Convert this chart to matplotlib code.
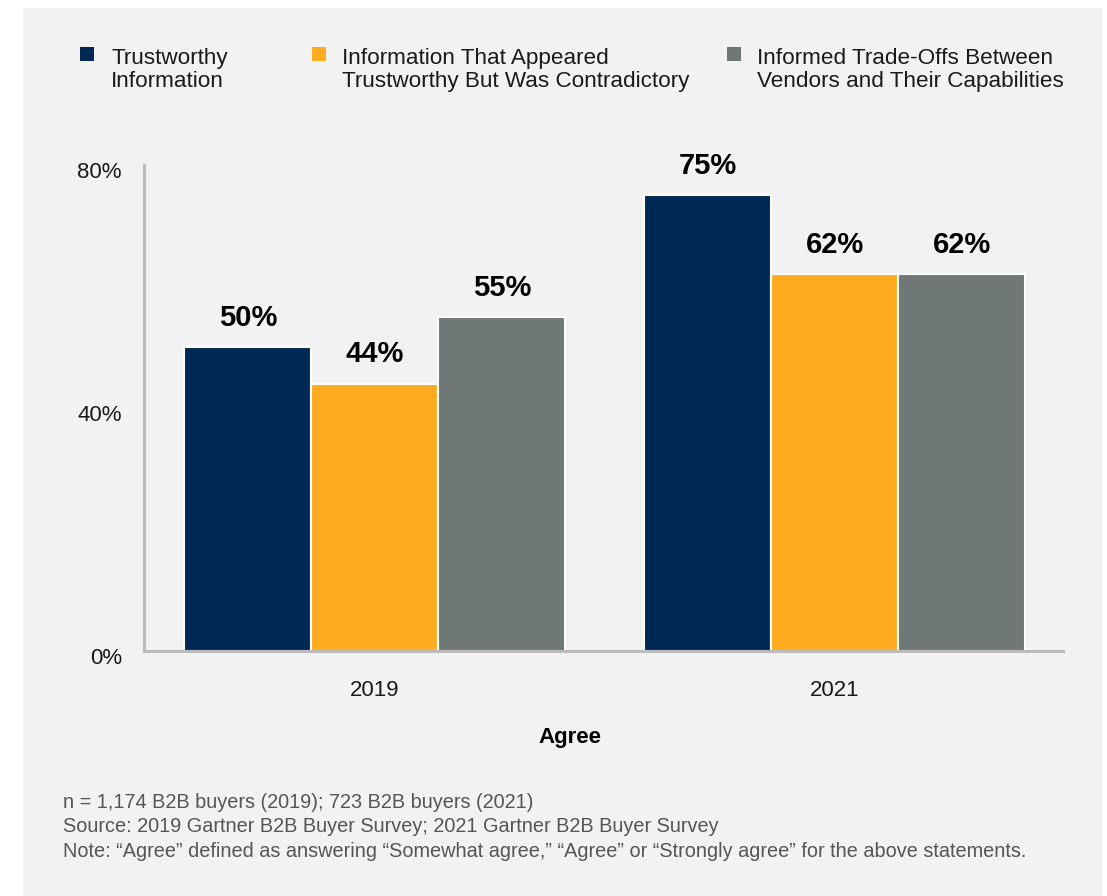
import matplotlib
matplotlib.use("Agg")
import matplotlib.pyplot as plt
from matplotlib.patches import Rectangle
import matplotlib.transforms as mtransforms
import numpy as np

years = ["2019", "2021"]
series_names = [
    "Trustworthy\nInformation",
    "Information That Appeared\nTrustworthy But Was Contradictory",
    "Informed Trade-Offs Between\nVendors and Their Capabilities",
]
trustworthy = [50, 75]
contradictory = [44, 62]
tradeoffs = [55, 62]
yticks = [0, 40, 80]
footnotes = [
    "n = 1,174 B2B buyers (2019); 723 B2B buyers (2021)",
    "Source: 2019 Gartner B2B Buyer Survey; 2021 Gartner B2B Buyer Survey",
    "Note: \u201cAgree\u201d defined as answering \u201cSomewhat agree,\u201d \u201cAgree\u201d or \u201cStrongly agree\u201d for the above statements.",
]
xlabel = "Agree"

colors = ["#002855", "#FFAB1F", "#6F7777"]
FONT = "Liberation Sans"
plt.rcParams["font.family"] = [FONT, "DejaVu Sans"]

W, H = 1107, 896
fig = plt.figure(figsize=(W / 100, H / 100), dpi=100, facecolor="white")
fig.patches.append(Rectangle((23 / W, 0), (1102 - 23) / W, 1 - 8 / H,
                             transform=fig.transFigure, facecolor="#F2F2F2",
                             edgecolor="none", zorder=-10))

ax = fig.add_axes([144 / W, 1 - 651 / H, (1063 - 144) / W, (651 - 165) / H])
ax.set_facecolor("none")

x = np.arange(len(years))
bw = 0.276
data = [trustworthy, contradictory, tradeoffs]
for i, (vals, c) in enumerate(zip(data, colors)):
    pos = x + (i - 1) * bw
    bars = ax.bar(pos, vals, width=bw, color=c, edgecolor="white", linewidth=1.5, zorder=2)
    for b, v in zip(bars, vals):
        ax.annotate(f"{v}%", (b.get_x() + b.get_width() / 2, v), xytext=(0, 11),
                    textcoords="offset points", ha="center", va="bottom",
                    fontsize=21, fontweight="bold", color="black")

ax.set_xlim(-0.502, 1.496)
ax.set_ylim(0, 80)
ax.set_yticks(yticks)
ax.set_yticklabels([f"{t}%" for t in yticks])
ax.set_xticks(x)
ax.set_xticklabels(years)
ax.tick_params(axis="both", length=0, labelsize=16, colors="#1a1a1a")
ax.tick_params(axis="y", pad=16)
ax.tick_params(axis="x", pad=21)
shift = mtransforms.ScaledTranslation(0, -5 / 100, fig.dpi_scale_trans)
for lbl in ax.get_yticklabels():
    lbl.set_transform(lbl.get_transform() + shift)
for s in ["top", "right"]:
    ax.spines[s].set_visible(False)
for s in ["left", "bottom"]:
    ax.spines[s].set_color("#BBBBBB")
    ax.spines[s].set_linewidth(2.2)
    ax.spines[s].set_zorder(3)

fig.text(570 / W, 1 - 737 / H, xlabel, ha="center", va="center",
         fontsize=16, fontweight="bold", color="black")

# legend
leg_sq_x = [80, 312, 727]
leg_tx_x = [111, 342, 757]
for sx, tx, name, c in zip(leg_sq_x, leg_tx_x, series_names, colors):
    fig.patches.append(Rectangle((sx / W, 1 - 61 / H), 14 / W, 14 / H,
                                 transform=fig.transFigure, facecolor=c, edgecolor="none"))
    fig.text(tx / W, 1 - 70 / H, name, ha="left", va="center", fontsize=16.2,
             color="#1a1a1a", linespacing=1.14)

for i, t in enumerate(footnotes):
    fig.text(63 / W, 1 - (802 + i * 24.5) / H, t, ha="left", va="center",
             fontsize=14.3, color="#555555")

fig.savefig("out.png", dpi=100, facecolor="white")
